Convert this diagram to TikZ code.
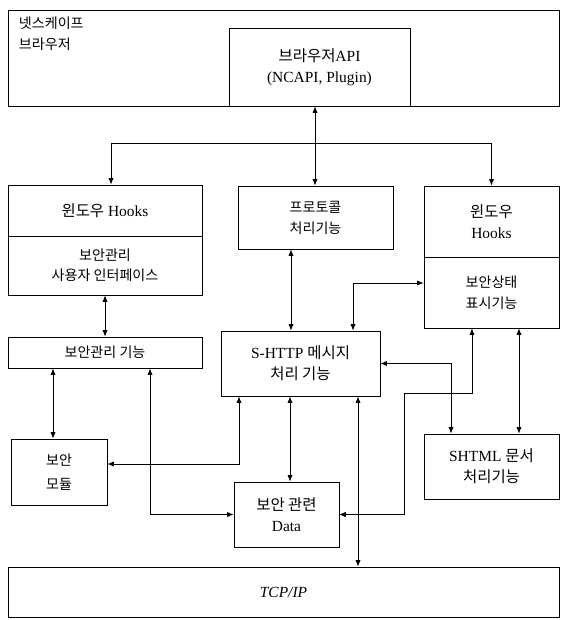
\documentclass[tikz,border=0pt]{standalone}
\usepackage{fontspec}
\setmainfont{Liberation Serif}
\newfontfamily\kr{Noto Sans CJK KR}
\usetikzlibrary{arrows.meta,calc}

\begin{document}
\begin{tikzpicture}[x=0.25mm, y=-0.25mm,
		box/.style={draw, line width=0.6pt, align=center, inner sep=0pt, font=\fontsize{11}{15}\selectfont},
		link/.style={line width=0.6pt, {Latex[length=1.6mm,width=1.3mm]}-{Latex[length=1.6mm,width=1.3mm]}},
		tip/.style={line width=0.6pt, -{Latex[length=1.6mm,width=1.3mm]}}]
		\useasboundingbox (0,0) rectangle (561,620);
		\node[box, minimum width=137.75mm, minimum height=24mm] (ns) at (283.5,58) {};
		\node[anchor=north west, align=left, font=\kr\fontsize{10}{15}\selectfont] (nslabel) at (14,12) {넷스케이프\\브라우저};
		\node[box, minimum width=45.25mm, minimum height=19.5mm] (api) at (319.5,67) {{\kr 브라우저}API\\(NCAPI, Plugin)};
		\node[box, minimum width=48.5mm, minimum height=12.75mm] (hookL) at (105,210.5) {{\kr 윈도우} Hooks};
		\node[box, minimum width=48.5mm, minimum height=14.75mm, font=\kr\fontsize{10}{14}\selectfont] (uiL) at (105,265.5) {보안관리\\사용자 인터페이스};
		\node[box, minimum width=38.75mm, minimum height=15.75mm, font=\kr\fontsize{10}{15}\selectfont] (proto) at (315.5,217.5) {프로토콜\\처리기능};
		\node[box, minimum width=33.75mm, minimum height=17.75mm] (hookR) at (491.5,221.5) {{\kr 윈도우}\\Hooks};
		\node[box, minimum width=33.75mm, minimum height=17.75mm, font=\kr\fontsize{10}{15}\selectfont] (disp) at (491.5,292.5) {보안상태\\표시기능};
		\node[box, minimum width=48.5mm, minimum height=7.75mm, font=\kr\fontsize{10}{15}\selectfont] (mgr) at (105,352.5) {보안관리 기능};
		\node[box, minimum width=39.75mm, minimum height=16.25mm] (shttp) at (300.5,363.5) {S-HTTP {\kr 메시지}\\{\kr 처리 기능}};
		\node[box, minimum width=24mm, minimum height=16.5mm, font=\kr\fontsize{10}{17}\selectfont] (mod) at (59,472) {보안\\모듈};
		\node[box, minimum width=26.25mm, minimum height=16.25mm] (data) at (286.5,514.5) {{\kr 보안 관련}\\Data};
		\node[box, minimum width=33.75mm, minimum height=16.25mm] (shtml) at (491.5,466.5) {SHTML {\kr 문서}\\{\kr 처리기능}};
		\node[box, minimum width=137.75mm, minimum height=12.5mm] (tcp) at (283.5,592) {\textit{TCP/IP}};

		\coordinate (tee) at (315,143);
		\draw[tip] (tee) -- (api.south -| tee);
		\draw[tip] (tee) -| ($(hookL.north)+(6,0)$);
		\draw[tip] (tee) -- (proto.north -| tee);
		\draw[tip] (tee) -| (hookR.north);
		\draw[link] (uiL.south) -- (mgr.north);
		\draw[link] ($(proto.south)+(-24.5,0)$) coordinate (p1) -- (p1 |- shttp.north);
		\draw[link] ($(shttp.north)+(52.5,0)$) |- ($(disp.west)+(0,-9.5)$);
		\draw[link] (shttp.east) -| ($(shtml.north)+(-40.5,0)$);
		\draw[link] ($(disp.south)+(27.5,0)$) coordinate (p2) -- (p2 |- shtml.north);
		\coordinate (bend) at (404,393);
		\draw[link] ($(disp.south)+(-19.5,0)$) |- (bend) |- (data.east);
		\draw[link] ($(shttp.south)+(-10.5,0)$) coordinate (p3) -- (p3 |- data.north);
		\draw[link] ($(mod.north)+(-6,0)$) coordinate (p4) -- (p4 |- mgr.south);
		\draw[link] ($(mgr.south)+(45,0)$) |- (data.west);
		\draw[link] ($(mod.east)+(0,-8)$) -| ($(shttp.south)+(-61.5,0)$);
		\draw[link] ($(shttp.south)+(57.5,0)$) coordinate (p5) -- (p5 |- tcp.north);
		\draw[tip] (p5 |- data.east) -- (data.east);
	\end{tikzpicture}
\end{document}
